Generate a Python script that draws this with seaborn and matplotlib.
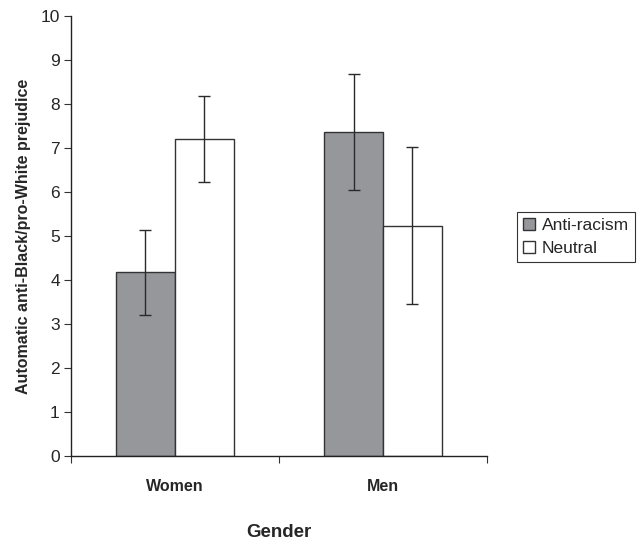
import matplotlib
matplotlib.use("Agg")
import matplotlib.pyplot as plt
import seaborn as sns
import pandas as pd

# valores
genero = ["Women", "Men"]
condicion = ["Anti-racism", "Neutral"]
media_anti = [4.17, 7.36]
media_neutral = [7.20, 5.23]
error_anti = [0.97, 1.31]
error_neutral = [0.97, 1.78]

df = pd.DataFrame({
    "Gender": genero + genero,
    "Condition": [condicion[0]] * 2 + [condicion[1]] * 2,
    "Score": media_anti + media_neutral,
    "Err": error_anti + error_neutral,
})

sns.set_style("ticks")
plt.rcParams['font.family'] = ['Liberation Sans', 'DejaVu Sans']

fig = plt.figure(figsize=(6.44, 5.44), dpi=100)
ax = fig.add_axes([0.1102, 0.1618, 0.646, 0.809])

sns.barplot(data=df, x="Gender", y="Score", hue="Condition", order=genero,
            hue_order=condicion, palette={"Anti-racism": "#96979b", "Neutral": "white"},
            width=0.567, errorbar=None, edgecolor="#333333", linewidth=1.0,
            saturation=1, ax=ax)

# barras de error sobre cada barra
for cont, cond in zip(ax.containers, condicion):
    sub = df[df["Condition"] == cond].set_index("Gender").loc[genero]
    xs = [p.get_x() + p.get_width() / 2 for p in cont.patches]
    ax.errorbar(xs, sub["Score"], yerr=sub["Err"], fmt="none", ecolor="#2a2a2a",
                elinewidth=1.0, capsize=4, capthick=1.0, zorder=5)

ax.set_xlim(-0.5, 1.5)
ax.set_ylim(0, 10)
ax.set_yticks(range(0, 11))
ax.set_xticks([-0.5, 0.5, 1.5])
ax.set_xticklabels(["", "", ""])
ax.tick_params(axis="x", length=5, width=0.8, color="#333333")
ax.tick_params(axis="y", length=5, width=0.8, labelsize=12.5, color="#333333", pad=3)
for i, g in enumerate(genero):
    ax.text(i, -0.7, g, ha="center", va="center", fontsize=11.5, fontweight="bold")

ax.set_xlabel("")
ax.text(0.5, -1.75, "Gender", ha="center", va="center", fontsize=13.5, fontweight="bold")
ax.set_ylabel("Automatic anti-Black/pro-White prejudice", fontsize=11.5,
              fontweight="bold", labelpad=7)
sns.despine(ax=ax)
for s in ["left", "bottom"]:
    ax.spines[s].set_color("#222222")
    ax.spines[s].set_linewidth(1.0)

leg = ax.legend(loc="center left", bbox_to_anchor=(1.072, 0.498), frameon=True,
                fancybox=False, fontsize=12.5, handlelength=0.7, handleheight=0.7,
                handletextpad=0.4, borderpad=0.35, labelspacing=0.45, borderaxespad=0)
leg.get_frame().set_edgecolor("black")
leg.get_frame().set_linewidth(0.8)

fig.savefig("out.png", dpi=100)
